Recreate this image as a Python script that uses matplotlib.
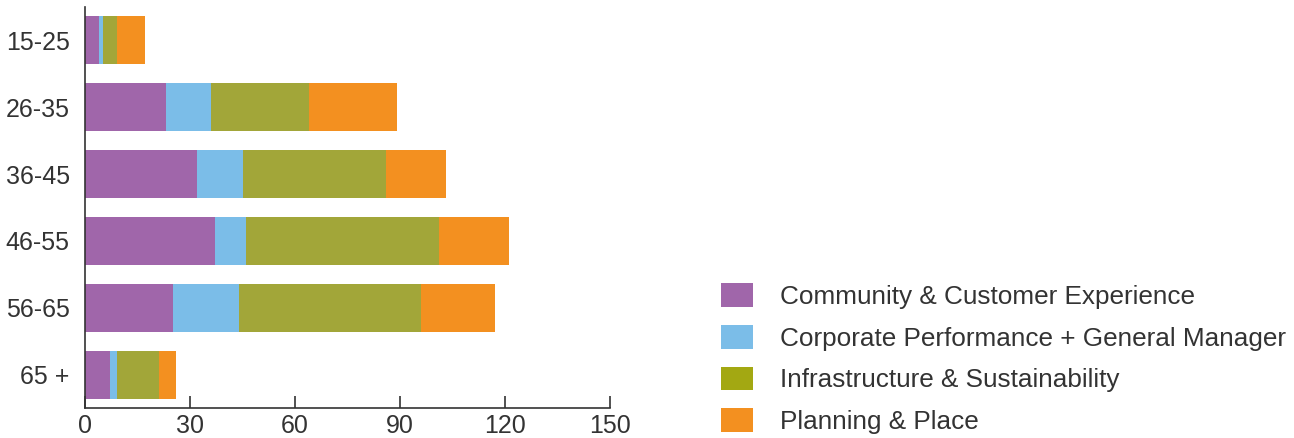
import matplotlib
matplotlib.use("Agg")
import matplotlib.pyplot as plt
import matplotlib.patches as mpatches
import numpy as np

plt.rcParams["font.family"] = ["Liberation Sans", "DejaVu Sans"]

age_groups = ["15-25", "26-35", "36-45", "46-55", "56-65", "65 +"]
community = [4, 23, 32, 37, 25, 7]
corporate = [1, 13, 13, 9, 19, 2]
infrastructure = [4, 28, 41, 55, 52, 12]
planning = [8, 25, 17, 20, 21, 5]

series_names = ["Community & Customer Experience",
                "Corporate Performance + General Manager",
                "Infrastructure & Sustainability",
                "Planning & Place"]
bar_colors = ["#A066AA", "#7BBDE8", "#A2A639", "#F39020"]
legend_colors = ["#A066AA", "#7BBDE8", "#A3A812", "#F39020"]

fig = plt.figure(figsize=(12.94, 4.38), dpi=100)
ax = fig.add_axes([85 / 1294, 1 - 408 / 438, 525 / 1294, 401 / 438])

y = np.arange(len(age_groups))
left = np.zeros(len(age_groups))
for vals, col in zip([community, corporate, infrastructure, planning], bar_colors):
    ax.barh(y, vals, left=left, height=0.72, color=col, lw=0)
    left += np.array(vals)

ax.set_xlim(0, 150)
ax.set_ylim(5.5, -0.5)
ax.set_xticks([0, 30, 60, 90, 120, 150])
ax.set_yticks(y)
ax.set_yticklabels(age_groups)
ax.tick_params(axis="x", direction="in", length=9, width=1.2, color="#333333",
               labelsize=18, labelcolor="#333333", pad=4)
ax.tick_params(axis="y", length=0, labelsize=18, labelcolor="#333333", pad=11)
for s in ["top", "right"]:
    ax.spines[s].set_visible(False)
for s in ["left", "bottom"]:
    ax.spines[s].set_color("#333333")
    ax.spines[s].set_linewidth(1.2)

handles = [mpatches.Patch(color=c, lw=0) for c in legend_colors]
fig.legend(handles, series_names, loc="upper left",
           bbox_to_anchor=(721 / 1294, 1 - 283 / 438), frameon=False,
           fontsize=18.8, handlelength=1.23, handleheight=1.03,
           handletextpad=1.03, labelspacing=0.61, labelcolor="#333333",
           borderpad=0, borderaxespad=0)

fig.savefig("out.png", dpi=100)
